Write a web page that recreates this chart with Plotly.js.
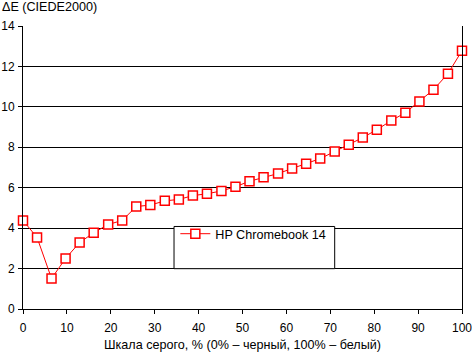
<!DOCTYPE html>
<html>
<head>
<meta charset="utf-8">
<script src="https://cdn.plot.ly/plotly-3.0.1.min.js"></script>
<style>html,body{margin:0;padding:0;background:#fff;}#chart{width:472px;height:352px;}</style>
</head>
<body>
<div id="chart"></div>
<script>
const grayLevels = [0, 3.2, 6.5, 9.7, 12.9, 16.1, 19.4, 22.6, 25.8, 29.0, 32.3, 35.5, 38.7, 41.9, 45.2, 48.4,
  51.6, 54.8, 58.1, 61.3, 64.5, 67.7, 71.0, 74.2, 77.4, 80.6, 83.9, 87.1, 90.3, 93.5, 96.8, 100];
const deltaE = [4.38, 3.54, 1.51, 2.50, 3.29, 3.77, 4.18, 4.38, 5.07, 5.14, 5.35, 5.42, 5.61, 5.70, 5.84, 6.05,
  6.32, 6.52, 6.70, 6.95, 7.19, 7.44, 7.79, 8.13, 8.48, 8.87, 9.32, 9.71, 10.26, 10.85, 11.64, 12.78];
const seriesName = "HP Chromebook 14";
const yTitle = "ΔE (CIEDE2000)";
const xTitle = "Шкала серого, % (0% – черный, 100% – белый)";

const font = {family: "Liberation Sans, Arial, sans-serif", size: 12, color: "#000"};
const bigFont = {family: "Liberation Sans, Arial, sans-serif", size: 12.6, color: "#000"};

const trace = {
  x: grayLevels, y: deltaE, name: seriesName, type: "scatter", mode: "lines+markers",
  line: {color: "#ff0000", width: 1},
  marker: {symbol: "square", size: 9, color: "#ffffff", line: {color: "#ff0000", width: 1.5}},
  cliponaxis: false, showlegend: true
};

const layout = {
  width: 472, height: 352,
  margin: {l: 23, r: 10, t: 26, b: 43, pad: 0},
  paper_bgcolor: "#fff", plot_bgcolor: "#fff",
  font: font,
  xaxis: {
    range: [0, 100], dtick: 10, tick0: 0, showgrid: false, zeroline: false,
    showline: true, linecolor: "#000", linewidth: 1,
    ticks: "outside", ticklen: 4, tickcolor: "#000", tickfont: font,
    ticklabelstandoff: 4, ticklabeloverflow: "allow", automargin: false,
    title: {text: xTitle, font: bigFont, standoff: 6}, fixedrange: true
  },
  yaxis: {
    range: [0, 14], dtick: 2, tick0: 0, showgrid: true, gridcolor: "#000", gridwidth: 1, zeroline: false,
    showline: true, mirror: true, linecolor: "#000", linewidth: 1,
    ticks: "outside", ticklen: 4, tickcolor: "#000", tickfont: font, ticklabelstandoff: 1,
    ticklabeloverflow: "allow", automargin: false, fixedrange: true
  },
  showlegend: true,
  legend: {
    x: 0.347, y: 0.265, xanchor: "left", yanchor: "middle",
    bgcolor: "rgba(0,0,0,0)", borderwidth: 0, font: bigFont, itemwidth: 30
  },
  shapes: [{
    type: "rect", xref: "paper", yref: "paper", layer: "above",
    x0: 0.344, x1: 0.710, y0: 0.1425, y1: 0.2916,
    line: {color: "#000", width: 1}, fillcolor: "#fff"
  }],
  annotations: [{
    text: yTitle, xref: "paper", yref: "paper", x: -23/439, y: 1 + 19/283,
    xanchor: "left", yanchor: "middle", showarrow: false, font: bigFont
  }]
};

Plotly.newPlot("chart", [trace], layout, {displayModeBar: false, staticPlot: true});
</script>
</body>
</html>
